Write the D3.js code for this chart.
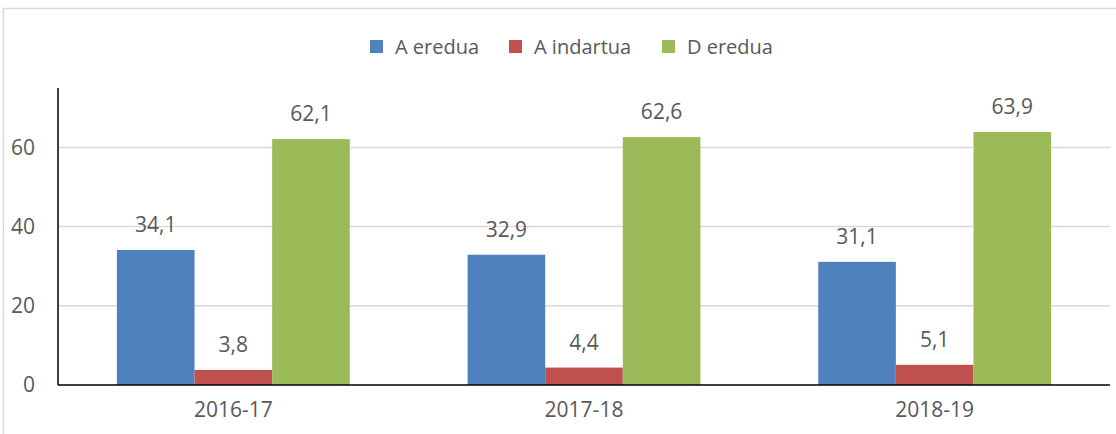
<!DOCTYPE html>
<html>
<head>
<meta charset="utf-8">
<script src="https://cdn.jsdelivr.net/npm/d3@7"></script>
<style>
  html, body { margin: 0; padding: 0; background: #fff; }
  svg { display: block; font-family: "Open Sans", "DejaVu Sans", sans-serif; }
</style>
</head>
<body>
<svg id="chart" width="1116" height="434"></svg>
<script>
// School years on the category axis
const categories = ["2016-17", "2017-18", "2018-19"];
// Series names (language models)
const seriesNames = ["A eredua", "A indartua", "D eredua"];
// Values per series, one per school year
const aEredua = [34.1, 32.9, 31.1];
const aIndartua = [3.8, 4.4, 5.1];
const dEredua = [62.1, 62.6, 63.9];
const seriesValues = [aEredua, aIndartua, dEredua];
// Y-axis ticks
const yTicks = [0, 20, 40, 60];
const yMax = 75;

const colors = ["#4F81BD", "#C0504D", "#9BBB59"];
const textColor = "#595959";

const svg = d3.select("#chart");
const W = 1116, H = 434;
const margin = { left: 58, right: 6, top: 88, bottom: 49 };
const plotW = W - margin.left - margin.right;
const plotH = H - margin.top - margin.bottom;

// Outer chart frame
svg.append("rect")
  .attr("x", 3.5).attr("y", 8.5)
  .attr("width", W + 10).attr("height", H + 10)
  .attr("fill", "none").attr("stroke", "#d9d9d9").attr("stroke-width", 1.5);

const g = svg.append("g").attr("transform", `translate(${margin.left},${margin.top})`);

const x0 = d3.scaleBand().domain(categories).range([0, plotW]).paddingInner(0).paddingOuter(0);
const x1 = d3.scaleBand().domain(seriesNames)
  .range([x0.bandwidth() * 0.168, x0.bandwidth() * 0.832]).padding(0);
const y = d3.scaleLinear().domain([0, yMax]).range([plotH, 0]);

// Horizontal gridlines
g.append("g")
  .selectAll("line")
  .data(yTicks.filter(d => d > 0))
  .join("line")
  .attr("x1", 0).attr("x2", plotW)
  .attr("y1", d => y(d)).attr("y2", d => y(d))
  .attr("stroke", "#d9d9d9").attr("stroke-width", 1.5);

// Y tick labels
const yAxis = d3.axisLeft(y).tickValues(yTicks).tickSize(0).tickPadding(23);
const yg = g.append("g").call(yAxis);
yg.select(".domain").remove();
yg.selectAll("text")
  .attr("fill", textColor).attr("font-size", 21)
  .attr("font-family", "Open Sans, sans-serif");

// Bars
const groups = g.append("g").selectAll("g")
  .data(categories)
  .join("g")
  .attr("transform", d => `translate(${x0(d)},0)`);

groups.selectAll("rect")
  .data((c, i) => seriesNames.map((s, k) => ({ s, k, v: seriesValues[k][i] })))
  .join("rect")
  .attr("x", d => x1(d.s))
  .attr("width", x1.bandwidth())
  .attr("y", d => y(d.v))
  .attr("height", d => y(0) - y(d.v))
  .attr("fill", d => colors[d.k]);

// Value labels above each bar (comma decimal separator)
groups.selectAll("text.val")
  .data((c, i) => seriesNames.map((s, k) => ({ s, k, v: seriesValues[k][i] })))
  .join("text")
  .attr("class", "val")
  .attr("x", d => x1(d.s) + x1.bandwidth() / 2)
  .attr("y", d => y(d.v) - 18)
  .attr("text-anchor", "middle")
  .attr("fill", textColor).attr("font-size", 21)
  .text(d => d.v.toFixed(1).replace(".", ","));

// Axis lines
g.append("line")
  .attr("x1", 0).attr("x2", 0).attr("y1", 0).attr("y2", plotH)
  .attr("stroke", "#000").attr("stroke-width", 1.5);
g.append("line")
  .attr("x1", 0).attr("x2", plotW).attr("y1", plotH).attr("y2", plotH)
  .attr("stroke", "#000").attr("stroke-width", 1.5);

// X category labels
const xAxis = d3.axisBottom(x0).tickSize(0).tickPadding(17);
const xg = g.append("g").attr("transform", `translate(0,${plotH})`).call(xAxis);
xg.select(".domain").remove();
xg.selectAll("text")
  .attr("fill", textColor).attr("font-size", 21)
  .attr("font-family", "Open Sans, sans-serif");

// Legend
const legendItems = [
  { name: seriesNames[0], x: 370, color: colors[0] },
  { name: seriesNames[1], x: 509, color: colors[1] },
  { name: seriesNames[2], x: 662, color: colors[2] }
];
const lg = svg.append("g");
legendItems.forEach(it => {
  lg.append("rect").attr("x", it.x).attr("y", 40).attr("width", 13).attr("height", 13).attr("fill", it.color);
  lg.append("text").attr("x", it.x + 25).attr("y", 54)
    .attr("fill", textColor).attr("font-size", 20).text(it.name);
});
</script>
</body>
</html>
